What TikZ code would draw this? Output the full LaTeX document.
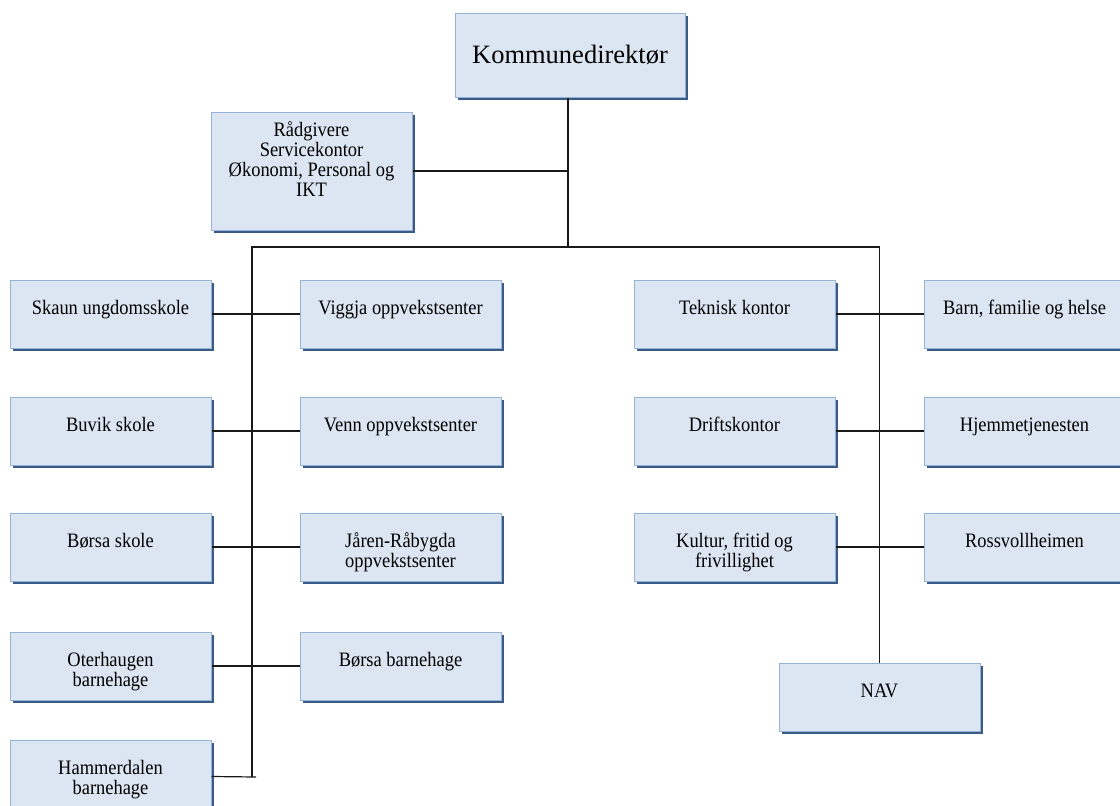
\documentclass[tikz,border=0pt]{standalone}
\usepackage{fontspec}
\setmainfont{Liberation Serif}
\newfontfamily\boxfont[FakeStretch=0.9]{Liberation Serif}
\usetikzlibrary{shadows,calc}
\definecolor{boxfill}{RGB}{220,230,242}
\definecolor{boxline}{RGB}{149,179,215}
\definecolor{boxshadow}{RGB}{58,90,136}
\definecolor{wirec}{RGB}{25,25,25}
\newcommand\tops{\rule{0pt}{18pt}}
\begin{document}
\begin{tikzpicture}[x=1pt,y=-1pt,
  unit/.style={draw=boxline, fill=boxfill, line width=1pt, inner sep=0pt,
    minimum width=201pt, minimum height=68pt,
    general shadow={fill=boxshadow, shadow xshift=3pt, shadow yshift=-3pt}},
  txt/.style={anchor=north, inner sep=0pt, align=center,
    font={\boxfont\fontsize{20.5}{20}\selectfont}},
  wire/.style={draw=wirec, line width=1.2pt}]
\useasboundingbox (0,0) rectangle (1120,806);

% top
\node[unit, minimum width=230pt, minimum height=84pt,
  font={\fontsize{26.5}{30}\selectfont}] (K) at (570,55) {Kommunedirektør};
\node[unit, minimum height=118pt] (R) at (311.5,171) {};
\node[txt] (tR) at ($(R.north)+(0,7)$) {\tops Rådgivere\\Servicekontor\\Økonomi, Personal og\\IKT};

% left group
\node[unit] (A1) at (110.5,314) {};
\node[unit] (A2) at (110.5,431) {};
\node[unit] (A3) at (110.5,547) {};
\node[unit] (A4) at (110.5,666) {};
\node[unit] (H)  at (110.5,774) {};
\node[unit] (B1) at (400.5,314) {};
\node[unit] (B2) at (400.5,431) {};
\node[unit] (B3) at (400.5,547) {};
\node[unit] (B4) at (400.5,666) {};

\node[txt] (tA1) at ($(A1.north)+(0,17)$) {\tops Skaun ungdomsskole};
\node[txt] (tA2) at ($(A2.north)+(0,17)$) {\tops Buvik skole};
\node[txt] (tA3) at ($(A3.north)+(0,17)$) {\tops Børsa skole};
\node[txt] (tA4) at ($(A4.north)+(0,17)$) {\tops Oterhaugen\\barnehage};
\node[txt] (tH)  at ($(H.north)+(0,17)$)  {\tops Hammerdalen\\barnehage};
\node[txt] (tB1) at ($(B1.north)+(0,17)$) {\tops Viggja oppvekstsenter};
\node[txt] (tB2) at ($(B2.north)+(0,17)$) {\tops Venn oppvekstsenter};
\node[txt] (tB3) at ($(B3.north)+(0,17)$) {\tops Jåren-Råbygda\\oppvekstsenter};
\node[txt] (tB4) at ($(B4.north)+(0,17)$) {\tops Børsa barnehage};

% right group
\node[unit] (C1) at (734.5,314) {};
\node[unit] (C2) at (734.5,431) {};
\node[unit] (C3) at (734.5,547) {};
\node[unit] (D1) at (1024.5,314) {};
\node[unit] (D2) at (1024.5,431) {};
\node[unit] (D3) at (1024.5,547) {};
\node[unit] (NAV) at (879.5,697) {};

\node[txt] (tC1) at ($(C1.north)+(0,17)$) {\tops Teknisk kontor};
\node[txt] (tC2) at ($(C2.north)+(0,17)$) {\tops Driftskontor};
\node[txt] (tC3) at ($(C3.north)+(0,17)$) {\tops Kultur, fritid og\\frivillighet};
\node[txt] (tD1) at ($(D1.north)+(0,17)$) {\tops Barn, familie og helse};
\node[txt] (tD2) at ($(D2.north)+(0,17)$) {\tops Hjemmetjenesten};
\node[txt] (tD3) at ($(D3.north)+(0,17)$) {\tops Rossvollheimen};
\node[txt] (tN)  at ($(NAV.north)+(0,17)$) {\tops NAV};

% junctions
\coordinate (jn) at (568,247);
\coordinate (busL) at (252,247);
\coordinate (busR) at (NAV.north |- jn);
\coordinate (endL) at (252,777);
\coordinate (stub) at (256,777);
\coordinate (hc) at ($(H.north east)+(0,37)$);

% connectors
\draw[wire] (K.south -| jn) -- (jn);
\draw[wire] (R.east) -- (R.east -| jn);
\draw[wire] (endL) -- (busL) -- (busR) -- (NAV.north);
\draw[wire] (hc) -- (stub);
\draw[wire] (A1.east) -- (B1.west);
\draw[wire] (A2.east) -- (B2.west);
\draw[wire] (A3.east) -- (B3.west);
\draw[wire] (A4.east) -- (B4.west);
\draw[wire] (C1.east) -- (D1.west);
\draw[wire] (C2.east) -- (D2.west);
\draw[wire] (C3.east) -- (D3.west);
\end{tikzpicture}
\end{document}
